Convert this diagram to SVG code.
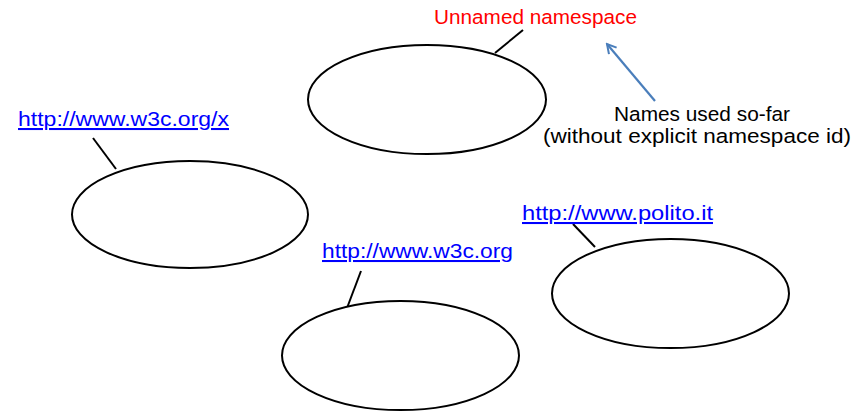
<svg xmlns="http://www.w3.org/2000/svg" width="855" height="417" viewBox="0 0 855 417">
<style>
.ns{fill:#fff;stroke:#000;stroke-width:2}
.lead{stroke:#000;stroke-width:2;fill:none}
.url{font-family:"Liberation Sans",Arial,sans-serif;font-size:20.5px;fill:#0000ff;text-decoration:underline}
.red{font-family:"Liberation Sans",Arial,sans-serif;font-size:20.5px;fill:#ff0000}
.note{font-family:"Liberation Sans",Arial,sans-serif;font-size:20.5px;fill:#000}
</style>
<defs>
<marker id="arr" viewBox="0 0 12 12" refX="10" refY="6" markerWidth="12" markerHeight="12" markerUnits="userSpaceOnUse" orient="auto">
<path d="M1,1 L10,6 L1,11" fill="none" stroke="#4a7ebb" stroke-width="2"/>
</marker>
</defs>
<rect width="855" height="417" fill="#fff"/>
<g id="connectors">
<line class="lead" x1="523" y1="30" x2="495" y2="53"/>
<line class="lead" x1="93" y1="138" x2="116" y2="169"/>
<line class="lead" x1="361" y1="271" x2="347" y2="308"/>
<line class="lead" x1="573" y1="224" x2="595" y2="247"/>
<line x1="655" y1="101" x2="607" y2="44" stroke="#4a7ebb" stroke-width="2.2" marker-end="url(#arr)"/>
</g>
<g id="unnamed">
<ellipse class="ns" cx="427" cy="99.5" rx="119" ry="54.5"/>
<text class="red" x="434" y="24" textLength="203" lengthAdjust="spacingAndGlyphs">Unnamed namespace</text>
</g>
<g id="w3cx">
<ellipse class="ns" cx="190" cy="214.5" rx="118" ry="53.5"/>
<text class="url" x="18" y="126" textLength="211" lengthAdjust="spacingAndGlyphs">http://www.w3c.org/x</text>
</g>
<g id="w3c">
<ellipse class="ns" cx="400.5" cy="355.5" rx="118.5" ry="54.5"/>
<text class="url" x="322" y="258" textLength="191" lengthAdjust="spacingAndGlyphs">http://www.w3c.org</text>
</g>
<g id="polito">
<ellipse class="ns" cx="670.5" cy="293.5" rx="118.5" ry="54.5"/>
<text class="url" x="522" y="220" textLength="191" lengthAdjust="spacingAndGlyphs">http://www.polito.it</text>
</g>
<g id="note">
<text class="note" x="614" y="121" textLength="176" lengthAdjust="spacingAndGlyphs">Names used so-far</text>
<text class="note" x="543" y="143" textLength="308" lengthAdjust="spacingAndGlyphs">(without explicit namespace id)</text>
</g>
</svg>
